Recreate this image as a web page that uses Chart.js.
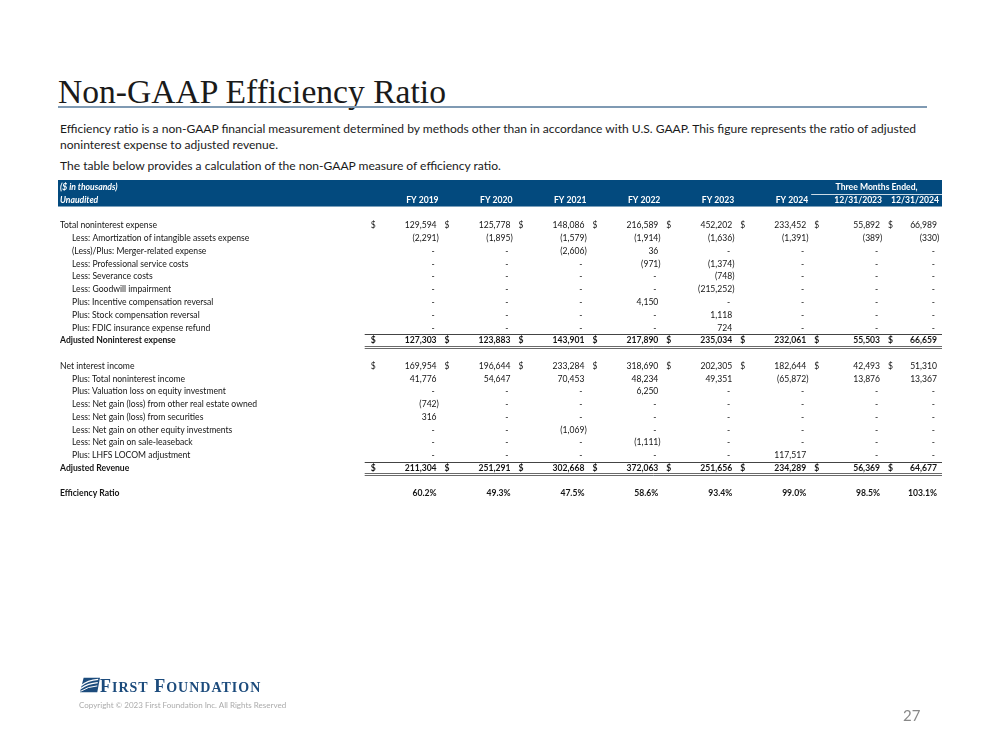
<!DOCTYPE html>
<html>
<head>
<meta charset="utf-8">
<title>Non-GAAP Efficiency Ratio</title>
<script src="https://cdn.jsdelivr.net/npm/chart.js@4.4.1/dist/chart.umd.min.js"></script>
<style>
    html, body { margin: 0; padding: 0; background: #fff; }
    #page { position: relative; width: 999px; height: 750px; overflow: hidden; font-family: Lato, sans-serif; color: #1a1a1a; }
    #tableChart { position: absolute; left: 0; top: 0; }
    h1 { position: absolute; left: 58px; top: 75px; margin: 0; font: 400 33.6px/34px "Liberation Serif", serif; color: #1a1a1a; white-space: nowrap; }
    .rule { position: absolute; left: 58px; top: 106px; width: 869px; height: 2px; background: #7f9ab3; }
    .para { position: absolute; left: 60px; margin: 0; font-size: 12.05px; line-height: 16.5px; white-space: nowrap; }
    .logo { position: absolute; left: 80px; top: 677px; height: 18px; }
    .logo svg { position: absolute; left: 0; top: 0; }
    .logo .name { position: absolute; left: 20px; top: -1px; font: bold 18px/20px "Liberation Serif", serif; letter-spacing: 1px; color: #1c4b7c; white-space: nowrap; }
    .logo .sc { font-size: 14px; }
    .copyright { position: absolute; left: 79px; top: 700px; font-size: 8px; line-height: 10px; color: #ababab; white-space: nowrap; }
    .pagenum { position: absolute; left: 903px; top: 706px; font-size: 15px; line-height: 18px; color: #888; }
</style>
</head>
<body>
<div id="page">
    <h1>Non-GAAP Efficiency Ratio</h1>
    <div class="rule"></div>
    <p class="para" style="top: 120.75px;">Efficiency ratio is a non-GAAP financial measurement determined by methods other than in accordance with U.S. GAAP. This figure represents the ratio of adjusted<br>noninterest expense to adjusted revenue.</p>
    <p class="para" style="top: 158px;">The table below provides a calculation of the non-GAAP measure of efficiency ratio.</p>
    <canvas id="tableChart" width="999" height="750"></canvas>
    <div class="logo">
        <svg width="20" height="16" viewBox="0 0 22 16">
            <polygon points="4,0 22,0 19,16 0,16" fill="#1c4b7c"/>
            <path d="M1.5,8.5 Q8,3 20,1.8" stroke="#fff" stroke-width="1.3" fill="none"/>
            <path d="M1,11.8 Q9,6.2 19.5,5.4" stroke="#fff" stroke-width="1.3" fill="none"/>
            <path d="M0.5,15 Q9,9.5 19,9" stroke="#fff" stroke-width="1.1" fill="none"/>
        </svg>
        <span class="name">F<span class="sc">IRST</span> F<span class="sc">OUNDATION</span></span>
    </div>
    <div class="copyright">Copyright © 2023 First Foundation Inc. All Rights Reserved</div>
    <div class="pagenum">27</div>
</div>

<script>
// Column headings ($ in thousands)
const columnLabels = ['FY 2019', 'FY 2020', 'FY 2021', 'FY 2022', 'FY 2023', 'FY 2024', '12/31/2023', '12/31/2024'];
const quarterGroupLabel = 'Three Months Ended,';

// Expense side (null = "-")
const totalNoninterestExpense = [129594, 125778, 148086, 216589, 452202, 233452, 55892, 66989];
const amortizationIntangibles = [-2291, -1895, -1579, -1914, -1636, -1391, -389, -330];
const mergerRelatedExpense = [null, null, -2606, 36, null, null, null, null];
const professionalServiceCosts = [null, null, null, -971, -1374, null, null, null];
const severanceCosts = [null, null, null, null, -748, null, null, null];
const goodwillImpairment = [null, null, null, null, -215252, null, null, null];
const incentiveCompReversal = [null, null, null, 4150, null, null, null, null];
const stockCompReversal = [null, null, null, null, 1118, null, null, null];
const fdicRefund = [null, null, null, null, 724, null, null, null];
const adjustedNoninterestExpense = [127303, 123883, 143901, 217890, 235034, 232061, 55503, 66659];

// Revenue side
const netInterestIncome = [169954, 196644, 233284, 318690, 202305, 182644, 42493, 51310];
const totalNoninterestIncome = [41776, 54647, 70453, 48234, 49351, -65872, 13876, 13367];
const valuationLossEquity = [null, null, null, 6250, null, null, null, null];
const gainOtherRealEstate = [-742, null, null, null, null, null, null, null];
const gainSecurities = [316, null, null, null, null, null, null, null];
const gainOtherEquity = [null, null, -1069, null, null, null, null, null];
const gainSaleLeaseback = [null, null, null, -1111, null, null, null, null];
const lhfsLocomAdjustment = [null, null, null, null, null, 117517, null, null];
const adjustedRevenue = [211304, 251291, 302668, 372063, 251656, 234289, 56369, 64677];

// Efficiency ratio (%)
const efficiencyRatio = [60.2, 49.3, 47.5, 58.6, 93.4, 99.0, 98.5, 103.1];

// Table rows, top to bottom (null row = blank spacer)
const tableRows = [
    { header: '($ in thousands)' },
    { header: 'Unaudited', columns: true },
    null,
    { label: 'Total noninterest expense', values: totalNoninterestExpense, dollar: true },
    { label: 'Less: Amortization of intangible assets expense', values: amortizationIntangibles, indent: true },
    { label: '(Less)/Plus: Merger-related expense', values: mergerRelatedExpense, indent: true },
    { label: 'Less: Professional service costs', values: professionalServiceCosts, indent: true },
    { label: 'Less: Severance costs', values: severanceCosts, indent: true },
    { label: 'Less: Goodwill impairment', values: goodwillImpairment, indent: true },
    { label: 'Plus: Incentive compensation reversal', values: incentiveCompReversal, indent: true },
    { label: 'Plus: Stock compensation reversal', values: stockCompReversal, indent: true },
    { label: 'Plus: FDIC insurance expense refund', values: fdicRefund, indent: true },
    { label: 'Adjusted Noninterest expense', values: adjustedNoninterestExpense, dollar: true, bold: true, total: true },
    null,
    { label: 'Net interest income', values: netInterestIncome, dollar: true },
    { label: 'Plus: Total noninterest income', values: totalNoninterestIncome, indent: true },
    { label: 'Plus: Valuation loss on equity investment', values: valuationLossEquity, indent: true },
    { label: 'Less: Net gain (loss) from other real estate owned', values: gainOtherRealEstate, indent: true },
    { label: 'Less: Net gain (loss) from securities', values: gainSecurities, indent: true },
    { label: 'Less: Net gain on other equity investments', values: gainOtherEquity, indent: true },
    { label: 'Less: Net gain on sale-leaseback', values: gainSaleLeaseback, indent: true },
    { label: 'Plus: LHFS LOCOM adjustment', values: lhfsLocomAdjustment, indent: true },
    { label: 'Adjusted Revenue', values: adjustedRevenue, dollar: true, bold: true, total: true },
    null,
    { label: 'Efficiency Ratio', values: efficiencyRatio, bold: true, percent: true }
];

// Column widths in table units (label column first)
const labelColumnWidth = 4.19;
const valueColumnWidths = [1, 1, 1, 1, 1, 1, 1, 0.77];

const textColor = '#141414';
const bandColor = '#034a7e';
const fontSize = 8.6;

function colStart(c) {
    let s = labelColumnWidth;
    for (let i = 0; i < c; i++) s += valueColumnWidths[i];
    return s;
}
function colEnd(c) {
    return colStart(c) + valueColumnWidths[c];
}
const tableWidth = colEnd(valueColumnWidths.length - 1);

function font(bold, italic) {
    return (italic ? 'italic ' : '') + (bold ? 'bold ' : '') + fontSize + 'px Lato, sans-serif';
}

function formatValue(v, percent) {
    if (v === null) return '-';
    if (percent) return v.toFixed(1) + '%';
    const s = Math.abs(v).toLocaleString('en-US');
    return v < 0 ? '(' + s + ')' : s;
}

// One dataset per data row; points sit at the right edge of each cell
const datasets = [];
tableRows.forEach((row, r) => {
    if (!row || !row.values) return;
    datasets.push({
        label: row.label,
        data: row.values.map((v, c) => ({ x: colEnd(c), y: r, v: v })),
        pointRadius: 0,
        pointHoverRadius: 0,
        row: row
    });
});

const tablePlugin = {
    id: 'tableText',
    beforeDatasetsDraw(chart) {
        const { ctx, chartArea } = chart;
        const x = chart.scales.x;
        const y = chart.scales.y;
        ctx.save();

        // Header band
        const bandTop = y.getPixelForValue(-0.5) - 1;
        const bandBottom = y.getPixelForValue(1.5);
        ctx.fillStyle = bandColor;
        ctx.fillRect(chartArea.left, bandTop, chartArea.right - chartArea.left, bandBottom - bandTop);

        // Line under "Three Months Ended,"
        const qLeft = x.getPixelForValue(colStart(6));
        ctx.strokeStyle = 'rgba(255,255,255,0.8)';
        ctx.lineWidth = 1;
        ctx.beginPath();
        ctx.moveTo(qLeft, Math.round(y.getPixelForValue(0.5)) + 0.5);
        ctx.lineTo(chartArea.right, Math.round(y.getPixelForValue(0.5)) + 0.5);
        ctx.stroke();

        // Header texts
        ctx.fillStyle = '#fff';
        ctx.textBaseline = 'middle';
        ctx.font = font(true, true);
        ctx.textAlign = 'left';
        tableRows.forEach((row, r) => {
            if (row && row.header) {
                ctx.fillText(row.header, x.getPixelForValue(0) + 2, y.getPixelForValue(r));
            }
        });
        ctx.font = font(true, false);
        ctx.textAlign = 'center';
        ctx.fillText(quarterGroupLabel, (qLeft + chartArea.right) / 2, y.getPixelForValue(0));
        ctx.textAlign = 'right';
        columnLabels.forEach((lab, c) => {
            ctx.fillText(lab, x.getPixelForValue(colEnd(c)) - 3, y.getPixelForValue(1));
        });

        // Subtotal rules
        const lineLeft = x.getPixelForValue(colStart(0)) - 3;
        tableRows.forEach((row, r) => {
            if (!row || !row.total) return;
            const above = Math.round(y.getPixelForValue(r - 0.5)) + 0.5;
            const below = Math.round(y.getPixelForValue(r + 0.5)) - 0.5;
            ctx.lineWidth = 1;
            ctx.strokeStyle = '#444';
            ctx.beginPath();
            ctx.moveTo(lineLeft, above);
            ctx.lineTo(chartArea.right, above);
            ctx.stroke();
            ctx.strokeStyle = '#6a6a6a';
            ctx.beginPath();
            ctx.moveTo(lineLeft, below);
            ctx.lineTo(chartArea.right, below);
            ctx.moveTo(lineLeft, below + 2);
            ctx.lineTo(chartArea.right, below + 2);
            ctx.stroke();
        });
        ctx.restore();
    },
    afterDatasetsDraw(chart) {
        const { ctx } = chart;
        const x = chart.scales.x;
        ctx.save();
        ctx.textBaseline = 'middle';
        ctx.fillStyle = textColor;
        chart.data.datasets.forEach((ds, i) => {
            const row = ds.row;
            const meta = chart.getDatasetMeta(i);
            ctx.font = font(row.bold, false);
            const parenW = ctx.measureText(')').width;
            let rowY = null;
            meta.data.forEach((el, c) => {
                const v = ds.data[c].v;
                rowY = el.y;
                const text = formatValue(v, row.percent);
                ctx.textAlign = 'right';
                if (v === null) {
                    ctx.fillText(text, el.x - 7, el.y);
                } else if (v < 0) {
                    ctx.fillText(text, el.x - 5 + parenW, el.y);
                } else {
                    ctx.fillText(text, el.x - 5, el.y);
                }
                if (row.dollar) {
                    ctx.textAlign = 'left';
                    ctx.fillText('$', x.getPixelForValue(colStart(c)) + 3, el.y);
                }
            });
            ctx.textAlign = 'left';
            ctx.fillText(row.label, x.getPixelForValue(0) + 2 + (row.indent ? 12 : 0), rowY);
        });
        ctx.restore();
    }
};

new Chart(document.getElementById('tableChart'), {
    type: 'scatter',
    data: { datasets: datasets },
    options: {
        responsive: false,
        animation: false,
        devicePixelRatio: 1,
        events: [],
        layout: { padding: { left: 58, right: 57, top: 181, bottom: 250 } },
        scales: {
            x: { type: 'linear', display: false, min: 0, max: tableWidth },
            y: { type: 'linear', display: false, reverse: true, min: -0.5, max: tableRows.length - 0.5 }
        },
        plugins: {
            legend: { display: false },
            tooltip: { enabled: false }
        }
    },
    plugins: [tablePlugin]
});
</script>
</body>
</html>
